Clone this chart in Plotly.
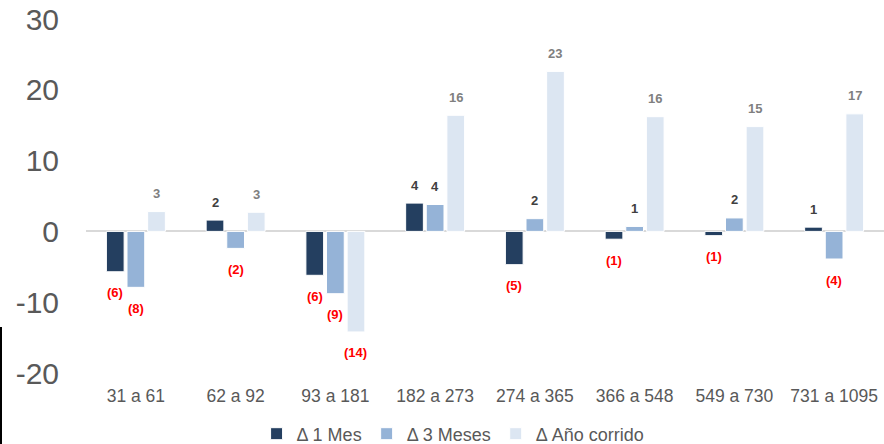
import plotly.graph_objects as go

categories = ["31 a 61", "62 a 92", "93 a 181", "182 a 273", "274 a 365",
              "366 a 548", "549 a 730", "731 a 1095"]
delta_1_mes = [-5.7, 1.6, -6.2, 4.0, -4.7, -1.1, -0.6, 0.6]
delta_3_meses = [-7.9, -2.4, -8.8, 3.8, 1.8, 0.7, 1.9, -3.9]
delta_anio = [2.8, 2.7, -14.2, 16.4, 22.6, 16.2, 14.8, 16.6]
y_tick_vals = [-20, -10, 0, 10, 20, 30]
y_tick_text = ["-20", "-10", "0", "10", "20", "30"]

series = [
    ("Δ 1 Mes", delta_1_mes, "#243F60", "#404040"),
    ("Δ 3 Meses", delta_3_meses, "#95B3D7", "#404040"),
    ("Δ Año corrido", delta_anio, "#DCE6F2", "#7F7F7F"),
]

FONT = "Liberation Sans, Arial, sans-serif"
W, H = 884, 444
ML, MR, MT, MB = 86, 0, 19, 71
BARGAP, GROUPGAP = 0.38, 0.14


def label(v):
    r = int(round(abs(v)))
    return f"({r})" if v < 0 else f"{r}"


fig = go.Figure()
annotations = []
cat_px = (W - ML - MR) / len(categories)
slot_px = cat_px * (1 - BARGAP) / len(series)
for i, (name, vals, color, pos_col) in enumerate(series):
    fig.add_trace(go.Bar(
        x=categories, y=vals, name=name,
        marker=dict(color=color, line=dict(color="white", width=1)),
        hoverinfo="skip",
    ))
    for c, v in zip(categories, vals):
        annotations.append(dict(
            x=c, y=v, xref="x", yref="y", showarrow=False,
            text=label(v), xshift=(i - 1) * slot_px,
            yshift=18 if v >= 0 else -21, yanchor="middle", xanchor="center",
            font=dict(family=FONT, size=13, weight="bold",
                      color="#FF0000" if v < 0 else pos_col),
        ))

fig.update_layout(
    width=W, height=H,
    margin=dict(l=ML, r=MR, t=MT, b=MB, autoexpand=False),
    paper_bgcolor="white", plot_bgcolor="white",
    barmode="group", bargap=BARGAP, bargroupgap=GROUPGAP,
    font=dict(family=FONT, color="#595959"),
    showlegend=True,
    legend=dict(orientation="h", x=0.46, xanchor="center", y=-0.12, yanchor="top",
                font=dict(size=18, color="#595959"), traceorder="normal",
                itemwidth=30, tracegroupgap=0),
    xaxis=dict(showgrid=False, showline=False, ticks="", automargin=False,
               tickfont=dict(size=17.5, color="#595959"), ticklabelstandoff=10),
    yaxis=dict(range=[-20, 30], tickvals=y_tick_vals, ticktext=y_tick_text,
               showgrid=False, showline=False, automargin=False,
               zeroline=True, zerolinecolor="#D9D9D9", zerolinewidth=2,
               tickfont=dict(size=30, color="#595959"), ticklabelstandoff=26),
    annotations=annotations,
    shapes=[dict(type="line", xref="paper", yref="paper",
                 x0=-85 / 798, x1=-85 / 798, y0=(373 - 327) / 354, y1=(373 - 444) / 354,
                 line=dict(color="black", width=2))],
)

fig.write_html("out.html", config={"displayModeBar": False},
               post_script="document.body.style.margin='0';document.body.style.overflow='hidden';")
